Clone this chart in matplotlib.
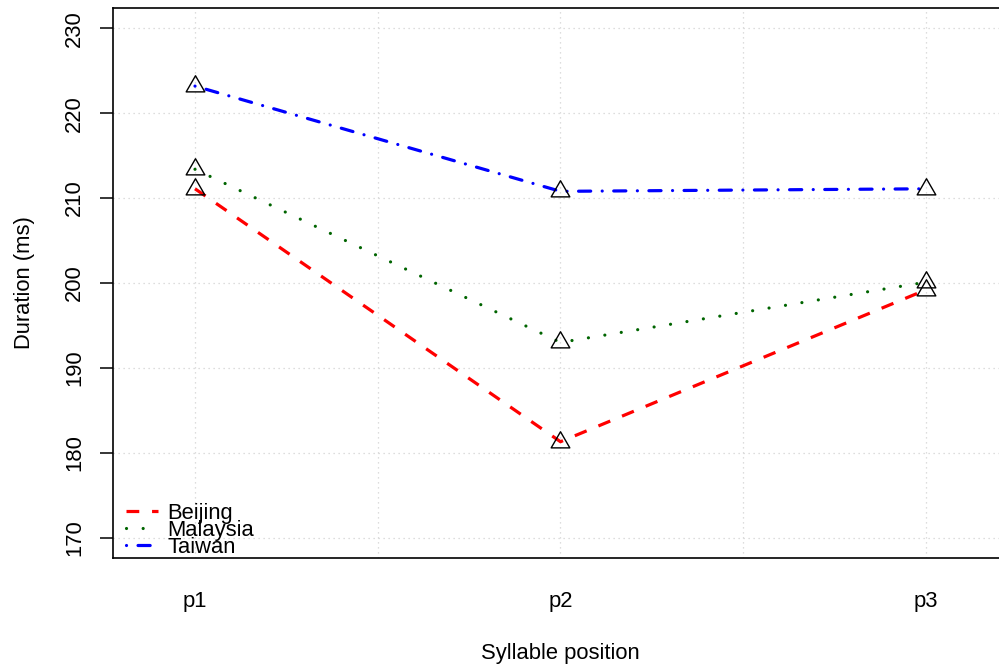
import matplotlib
matplotlib.use("Agg")
import matplotlib.pyplot as plt
from matplotlib.path import Path
import numpy as np

plt.rcParams['font.family'] = ['Liberation Sans', 'DejaVu Sans']

positions = ["p1", "p2", "p3"]
beijing = [211.1, 181.3, 199.2]
malaysia = [213.4, 193.0, 200.1]
taiwan = [223.2, 210.8, 211.1]
series_names = ["Beijing", "Malaysia", "Taiwan"]
yticks = [170, 180, 190, 200, 210, 220, 230]

FS = 15.8
W, H = 999, 665
fig = plt.figure(figsize=(W / 100, H / 100), dpi=100)
left, right, bottom, top = 113, 1008, 558, 8
ax = fig.add_axes([left / W, 1 - bottom / H, (right - left) / W, (bottom - top) / H])

x = np.arange(1, 4)
tri = Path([(0, 1), (-0.866, -0.5), (0.866, -0.5), (0, 1)],
           [Path.MOVETO, Path.LINETO, Path.LINETO, Path.CLOSEPOLY])

styles = [
    dict(color="#ff0000", dashes=(4, 4), dash_capstyle="butt"),
    dict(color="#006400", dashes=(0.01, 5.2), dash_capstyle="round"),
    dict(color="#0000ff", dashes=(0.01, 3.6, 3.8, 3.6), dash_capstyle="round"),
]
for vals, st, name in zip([beijing, malaysia, taiwan], styles, series_names):
    ax.plot(x, vals, lw=2.3, label=name, **st)
    ax.plot(x, vals, linestyle="none", marker=tri, markersize=15.5,
            markerfacecolor="none", markeredgecolor="black", markeredgewidth=1.0)

ax.set_xlim(1 - 82 / 365.5, 3 + 82 / 365.5)
ax.set_ylim(167.6, 232.4)
ax.set_xticks(x)
ax.set_xticklabels(positions)
ax.set_yticks(yticks)
ax.set_yticklabels([str(v) for v in yticks], rotation=90, va="center")
ax.tick_params(axis="x", length=0, pad=24, labelsize=FS)
ax.tick_params(axis="y", length=9.4, width=1.1, pad=10.5, labelsize=FS)

for v in [1, 1.5, 2, 2.5, 3]:
    ax.axvline(v, color="#d3d3d3", lw=0.9, linestyle=(0, (1, 3)), zorder=0)
for v in yticks:
    ax.axhline(v, color="#d3d3d3", lw=0.9, linestyle=(0, (1, 3)), zorder=0)

for s in ["left", "bottom", "top", "right"]:
    ax.spines[s].set_linewidth(1.2)

ax.set_xlabel("Syllable position", fontsize=FS, labelpad=22)
ax.set_ylabel("Duration (ms)", fontsize=FS, labelpad=21)

handles = [l for l in ax.get_lines() if l.get_label() in series_names]
leg = ax.legend(handles=handles, loc="lower left", frameon=False,
                bbox_to_anchor=(13 / 895, 0.0), borderaxespad=0.0, borderpad=0.0,
                handlelength=1.45, handletextpad=0.45, labelspacing=-0.18,
                fontsize=FS)

fig.savefig("out.png", dpi=100)
